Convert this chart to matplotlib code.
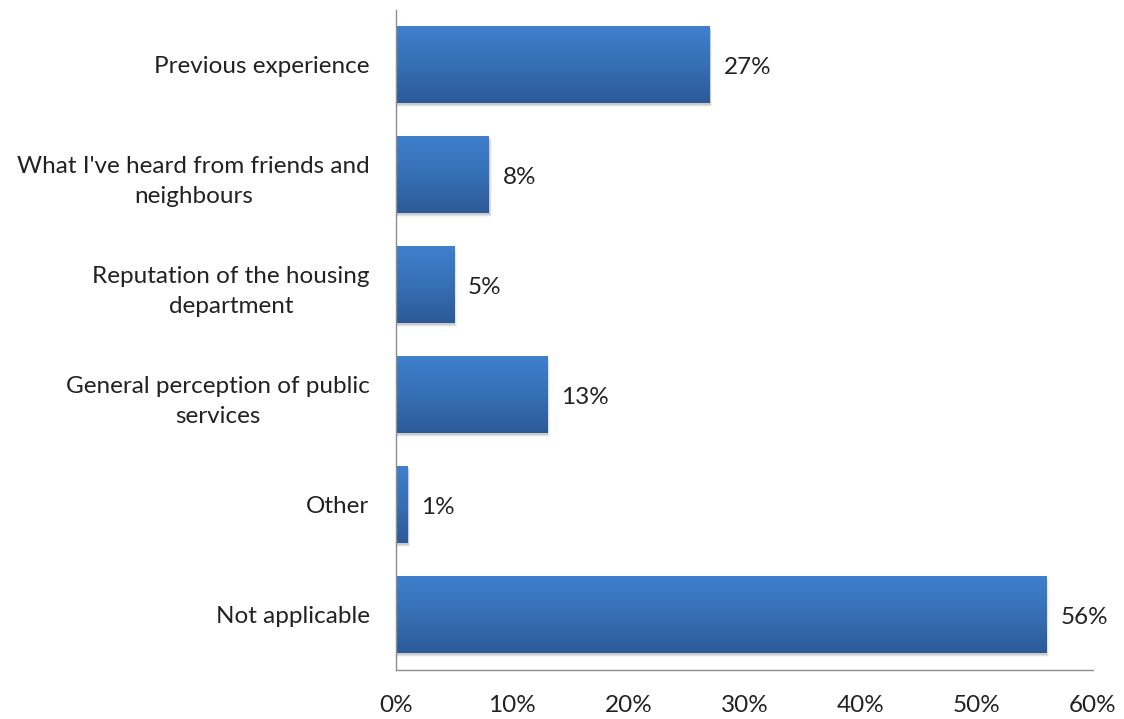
import matplotlib
matplotlib.use("Agg")
import matplotlib.pyplot as plt
import numpy as np
from matplotlib.colors import LinearSegmentedColormap
from matplotlib.patches import Rectangle

categories = [
    "Previous experience",
    "What I've heard from friends and\nneighbours",
    "Reputation of the housing\ndepartment",
    "General perception of public\nservices",
    "Other",
    "Not applicable",
]
values = [27, 8, 5, 13, 1, 56]
value_labels = ["27%", "8%", "5%", "13%", "1%", "56%"]
x_ticks = [0, 10, 20, 30, 40, 50, 60]
x_tick_labels = ["0%", "10%", "20%", "30%", "40%", "50%", "60%"]

plt.rcParams["font.family"] = ["Lato", "DejaVu Sans"]

fig = plt.figure(figsize=(11.24, 7.19), dpi=100)
ax = fig.add_axes([0.3523, 0.0682, 0.6201, 0.9179])

n = len(categories)
ypos = np.arange(n)
bar_h = 0.7
grad = LinearSegmentedColormap.from_list("bar", ["#3f7fcd", "#3670b5", "#2c5a98"])
gimg = np.linspace(0, 1, 256).reshape(-1, 1)

for y, v in zip(ypos, values):
    # soft drop shadow
    for k, a in enumerate([0.10, 0.07, 0.04]):
        off = 0.012 * (k + 1)
        ax.add_patch(Rectangle((0, y - bar_h / 2 + off), v + 0.08 * (k + 1), bar_h,
                               facecolor="#000000", alpha=a, edgecolor="none", zorder=1))
    bar = ax.barh(y, v, height=bar_h, color="none", edgecolor="none", zorder=2)[0]
    im = ax.imshow(gimg, cmap=grad, aspect="auto",
                   extent=[0, v, y + bar_h / 2, y - bar_h / 2], zorder=2)
    im.set_clip_path(bar)

for y, v, lab in zip(ypos, values, value_labels):
    ax.text(v + 1.2, y + 0.02, lab, va="center", ha="left", fontsize=17.5, color="#222222")

ax.set_xlim(0, 60)
ax.set_ylim(n - 0.5, -0.5)
ax.set_yticks(ypos)
ax.set_yticklabels(categories, fontsize=17.5, color="#222222", ha="right",
                   multialignment="center", linespacing=1.55)
ax.set_xticks(x_ticks)
ax.set_xticklabels(x_tick_labels, fontsize=17.5, color="#222222")
ax.tick_params(axis="both", length=0)
ax.tick_params(axis="y", pad=19)
ax.tick_params(axis="x", pad=18)
for s in ["top", "right"]:
    ax.spines[s].set_visible(False)
for s in ["left", "bottom"]:
    ax.spines[s].set_color("#8c8c8c")
    ax.spines[s].set_linewidth(1.0)

fig.savefig("out.png", dpi=100, facecolor="white")
